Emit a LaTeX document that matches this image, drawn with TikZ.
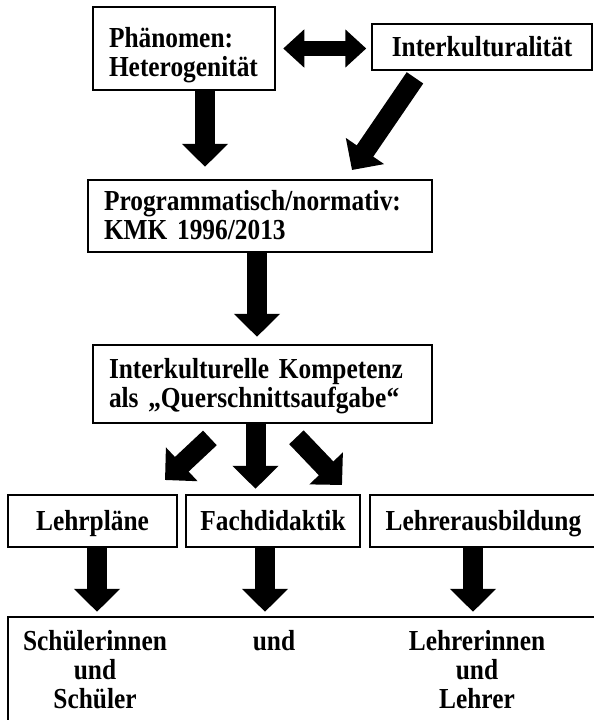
\documentclass[tikz,border=0pt]{standalone}
\usepackage{fontspec}
\setmainfont{Liberation Serif}[FakeStretch=0.875]
\usepackage{tikz}
\usetikzlibrary{arrows.meta}
\tikzstyle{kasten} = [draw=black, fill=white, line width=2.5pt,
    rectangle, inner sep=0pt, font=\bfseries\fontsize{29}{29.5}\selectfont]
\tikzstyle{zeile} = [text height=24pt, text depth=6pt]
\tikzstyle{links} = [align=left, inner xsep=16pt, text height=23pt, text depth=35pt]
\tikzstyle{spalte} = [align=center, anchor=base, inner sep=0pt,
    font=\bfseries\fontsize{29}{29}\selectfont]
\tikzstyle{pfeil} = [line width=20pt, -{Triangle[width=45pt,length=23pt]}]
\tikzstyle{doppelpfeil} = [line width=15pt,
    {Triangle[width=37pt,length=21pt]}-{Triangle[width=37pt,length=21pt]}]

\begin{document}
\begin{tikzpicture}[x=1pt,y=-1pt]
                \useasboundingbox (0,0) rectangle (594,720);
                \clip (0,0) rectangle (594,720);
                % obere Reihe
                \node [kasten, links, text width=150pt, text height=32pt, minimum height=83pt] (pheno) at (184,48.5)
                    {Phänomen:\\Heterogenität};
                \node [kasten, zeile, minimum width=220pt, minimum height=46pt] (inter) at (482,47)
                    {Interkulturalität};
                \node [kasten, links, text width=312pt, minimum height=72pt] (prog) at (260,216)
                    {Programmatisch/normativ:\\KMK 1996/2013};
                \node [kasten, links, text width=307pt, minimum height=78pt] (komp) at (262.5,384)
                    {Interkulturelle Kompetenz\\als „Querschnittsaufgabe“};
                % drei Bereiche
                \node [kasten, zeile, minimum width=169pt, minimum height=52pt] (lehrpl) at (92.5,521) {Lehrpläne};
                \node [kasten, zeile, minimum width=174pt, minimum height=52pt] (fach) at (273,521) {Fachdidaktik};
                \node [kasten, zeile, minimum width=227pt, minimum height=52pt] (ausb) at (483.5,521) {Lehrerausbildung};
                \node [kasten, minimum width=602pt, minimum height=123pt] (ziel) at (309,678.5) {};
                \node [spalte] (sus) at (95,708) {Schülerinnen\\und\\Schüler};
                \node [spalte] (und) at (274,650) {und};
                \node [spalte] (lul) at (477,708) {Lehrerinnen\\und\\Lehrer};
                % Pfeile
                \coordinate (itip) at (352,170);
                \coordinate (ltip) at (165,480);
                \coordinate (rtip) at (342,485);
                \draw [doppelpfeil, shorten <=7pt, shorten >=4.5pt] (pheno.east) -- (inter.west |- pheno.east);
                \draw [pfeil, shorten >=12pt] ([xshift=21pt]pheno.south) -- ([xshift=21pt]pheno.south |- prog.north);
                \draw [pfeil, shorten <=8pt] ([xshift=-62.5pt]inter.south) -- (itip);
                \draw [pfeil, shorten >=7pt] ([xshift=-3pt]prog.south) -- ([xshift=-3pt]prog.south |- komp.north);
                \draw [pfeil, shorten <=20pt] ([xshift=-38pt]komp.south) -- (ltip);
                \draw [pfeil, shorten >=5pt] ([xshift=-7pt]komp.south) -- ([xshift=-7pt]komp.south |- fach.north);
                \draw [pfeil, shorten <=18pt] ([xshift=21.5pt]komp.south) -- (rtip);
                \draw [pfeil, shorten >=4pt] ([xshift=4.5pt]lehrpl.south) -- ([xshift=4.5pt]lehrpl.south |- ziel.north);
                \draw [pfeil, shorten >=4pt] ([xshift=-8pt]fach.south) -- ([xshift=-8pt]fach.south |- ziel.north);
                \draw [pfeil, shorten >=4pt] ([xshift=-10.5pt]ausb.south) -- ([xshift=-10.5pt]ausb.south |- ziel.north);
            \end{tikzpicture}
\end{document}
